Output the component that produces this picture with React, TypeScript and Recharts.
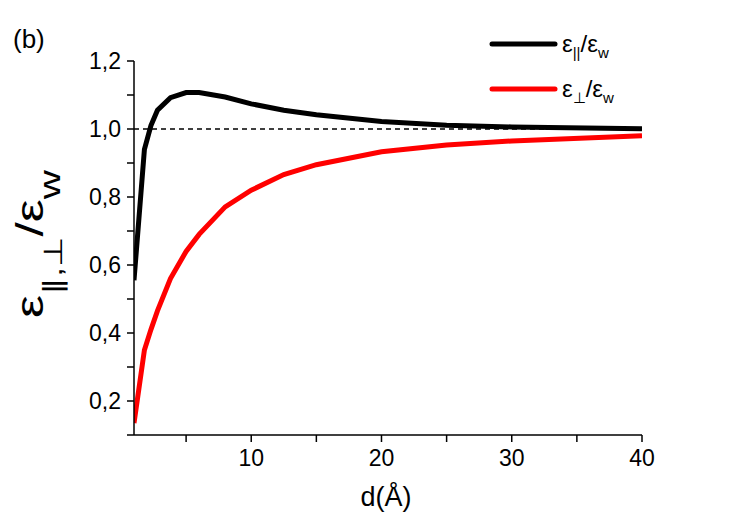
import React from "react";
import {
  Line,
  LineChart,
  ReferenceLine,
  XAxis,
  YAxis,
  Label,
} from "recharts";

// distance d (Å)
const distances = [1, 1.8, 2.3, 2.8, 3.8, 5, 6, 8, 10, 12.5, 15, 20, 25, 30, 40];
// eps_parallel / eps_w
const epsPar = [0.555, 0.94, 1.01, 1.055, 1.092, 1.107, 1.107, 1.094, 1.074, 1.055, 1.042, 1.022, 1.011, 1.006, 1.001];
// eps_perp / eps_w
const epsPerp = [0.135, 0.35, 0.41, 0.465, 0.56, 0.64, 0.69, 0.771, 0.82, 0.866, 0.895, 0.933, 0.953, 0.965, 0.98];

const xTicks = [5, 10, 15, 20, 25, 30, 35, 40];
const yTicks = [0.1, 0.2, 0.3, 0.4, 0.5, 0.6, 0.7, 0.8, 0.9, 1.0, 1.1, 1.2];

const data = distances.map((d, i) => ({ d, par: epsPar[i], perp: epsPerp[i] }));

const FONT = "'Liberation Sans', Arial, sans-serif";

const fmtY = (v: number) =>
  Math.round(v * 10) % 2 === 0 ? v.toFixed(1).replace(".", ",") : "";
const fmtX = (v: number) => (v % 10 === 0 ? String(v) : "");

function LegendBox() {
  const row = (color: string, sub: string, y: number) => (
    <g>
      <line x1={12} x2={75} y1={y} y2={y} stroke={color} strokeWidth={5} strokeLinecap="round" />
      <text x={82} y={y + 8} fontSize={24} fontFamily={FONT} fill="#000">
        ε<tspan fontSize={15} dy={6}>{sub}</tspan>
        <tspan dy={-6}>/ε</tspan>
        <tspan fontSize={15} dy={6}>w</tspan>
      </text>
    </g>
  );
  return (
    <svg width={180} height={90} style={{ position: "absolute", left: 480, top: 20 }}>
      {row("#000", "||", 24)}
      {row("#ff0000", "⊥", 69)}
    </svg>
  );
}

export default function App() {
  return (
    <div style={{ position: "absolute", left: 0, top: 0, width: 747, height: 522, background: "#fff" }}>
      <LineChart
        width={747}
        height={522}
        data={data}
        margin={{ top: 61, right: 105, bottom: 37, left: 64 }}
      >
        <XAxis
          dataKey="d"
          type="number"
          domain={[1, 40]}
          ticks={xTicks}
          tickFormatter={fmtX}
          allowDataOverflow
          height={50}
          tickSize={7}
          tickMargin={8}
          stroke="#000"
          strokeWidth={1.5}
          tick={{ fill: "#000", fontSize: 23, fontFamily: FONT }}
        >
          <Label
            content={() => (
              <text x={386} y={506} textAnchor="middle" fontSize={27} fontFamily={FONT} fill="#000">
                d(Å)
              </text>
            )}
          />
        </XAxis>
        <YAxis
          type="number"
          domain={[0.1, 1.2]}
          ticks={yTicks}
          tickFormatter={fmtY}
          allowDataOverflow
          width={70}
          tickSize={7}
          tickMargin={6}
          stroke="#000"
          strokeWidth={1.5}
          tick={{ fill: "#000", fontSize: 23, fontFamily: FONT }}
        >
          <Label
            content={() => (
              <text
                transform="translate(43,244) rotate(-90) scale(1.35,1)"
                x={0}
                y={0}
                textAnchor="middle"
                fontSize={38}
                fontFamily={FONT}
                fill="#000"
              >
                ε<tspan fontSize={26} dy={19}>∥,⊥</tspan>
                <tspan dy={-19}>/ε</tspan>
                <tspan fontSize={30} dy={17}>w</tspan>
              </text>
            )}
          />
        </YAxis>
        <ReferenceLine y={1} stroke="#000" strokeWidth={1.5} strokeDasharray="5 4" />
        <Line
          dataKey="par"
          type="linear"
          stroke="#000"
          strokeWidth={5}
          dot={false}
          isAnimationActive={false}
        />
        <Line
          dataKey="perp"
          type="linear"
          stroke="#ff0000"
          strokeWidth={5}
          dot={false}
          isAnimationActive={false}
        />
      </LineChart>
      <div
        style={{
          position: "absolute",
          left: 13,
          top: 24,
          fontFamily: FONT,
          fontSize: 26,
        }}
      >
        (b)
      </div>
      <LegendBox />
    </div>
  );
}
